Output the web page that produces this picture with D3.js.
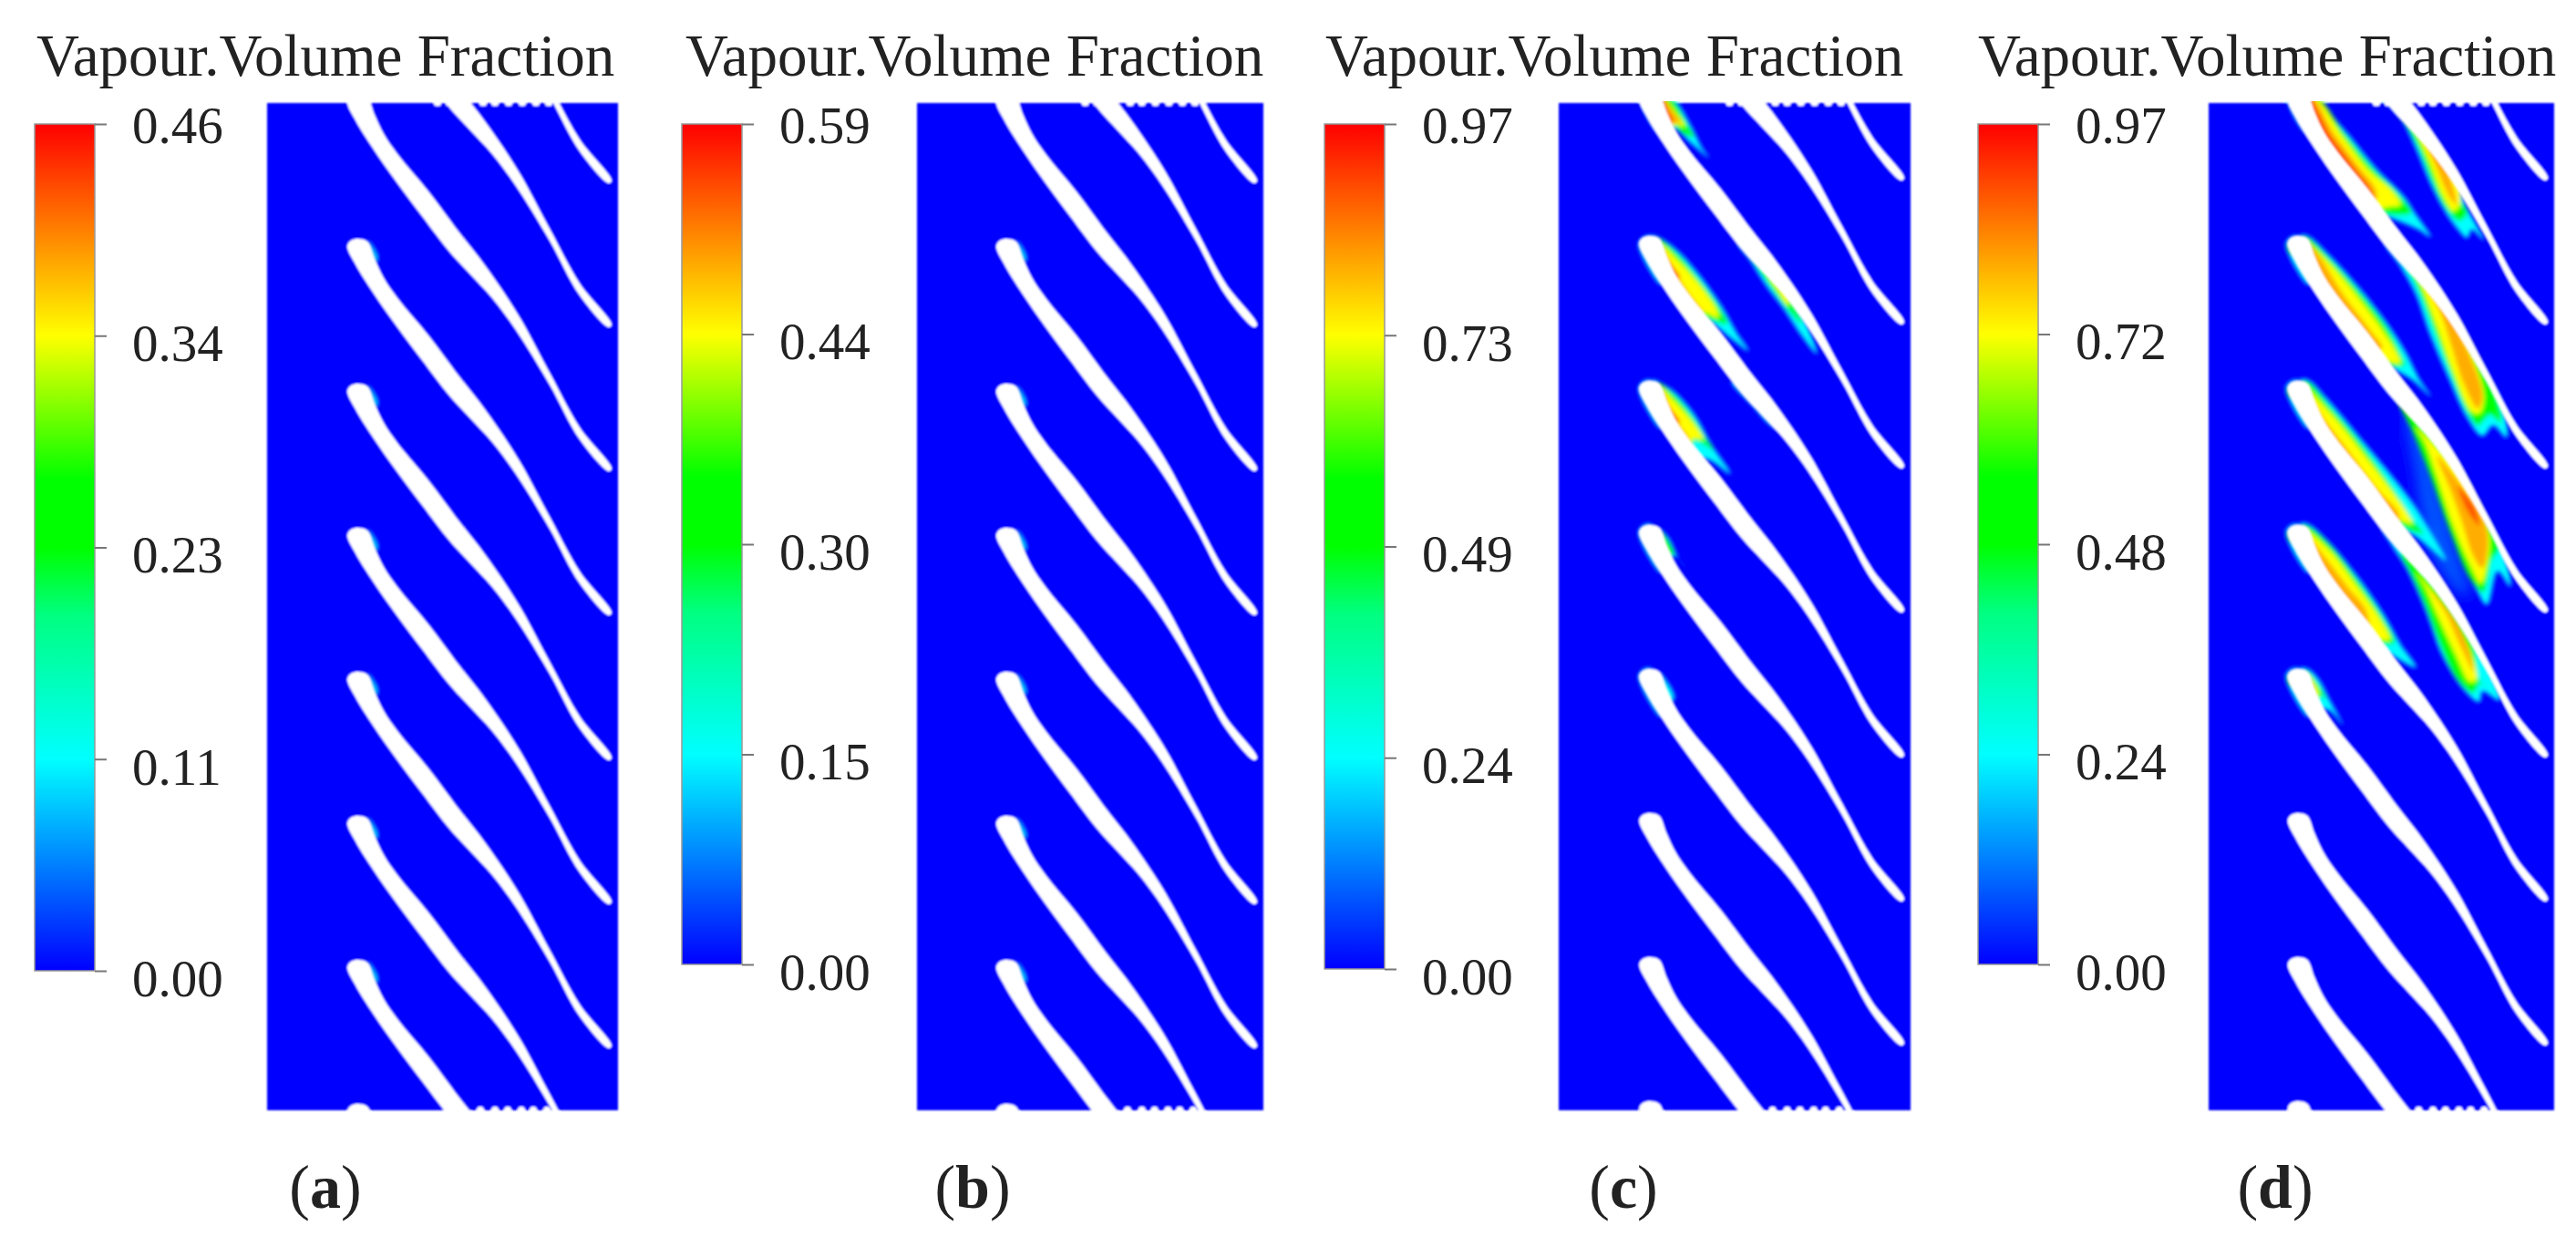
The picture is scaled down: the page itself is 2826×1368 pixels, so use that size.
<!DOCTYPE html>
<html>
<head>
<meta charset="utf-8">
<script src="https://cdn.jsdelivr.net/npm/d3@7"></script>
<style>
  html, body { margin: 0; background: #fff; }
  text { font-family: "Liberation Serif", serif; fill: #222; }
</style>
</head>
<body>
<svg id="chart" width="2826" height="1368"></svg>
<script>
// Legend
const titleText = 'Vapour.Volume Fraction';
const panelNames = ['a', 'b', 'c', 'd'];
const tickLabelsA = ['0.00', '0.11', '0.23', '0.34', '0.46'];
const tickLabelsB = ['0.00', '0.15', '0.30', '0.44', '0.59'];
const tickLabelsC = ['0.00', '0.24', '0.49', '0.73', '0.97'];
const tickLabelsD = ['0.00', '0.24', '0.48', '0.72', '0.97'];
const colorStops = [0, 0.25, 0.42, 0.5, 0.58, 0.75, 1];
const colorValues = ['#0000ff', '#00ffff', '#00ff80', '#00ff00', '#00ff00', '#ffff00', '#ff0000'];

// Blade outline, relative to the leading edge
const bladeUpper = [[0, 0], [10, 3], [18, 22], [28, 43], [43, 65], [77, 106], [110, 150], [133, 179], [153, 207], [177, 244], [210, 305], [243, 365], [278, 410]];
const bladeLower = [[275, 413], [243, 378], [210, 318], [173, 258], [147, 223], [123, 197], [100, 172], [70, 133], [43, 97], [17, 60], [-3, 28], [-12, 8], [-8, 2]];
// Leading edge heights in the cascade
const bladeLeadY = [-325, -167, -9, 149, 308, 466, 624, 782, 940, 1098];

// Small patch at each leading edge, low vapour fraction
const leadPatch = [[10, 2], [15, 7], [22, 22], [18, 26]];

// Vapour regions, nested low to high
const cavityLevels = [0.25, 0.5, 0.75, 0.83, 0.92];
const cavitiesC = [
  [[[125, 0], [170, 15], [225, 100], [260, 170], [285, 205], [230, 160], [175, 110], [145, 108], [110, 20]],
   [[125, 0], [165, 15], [210, 90], [235, 135], [200, 125], [170, 100], [145, 108], [110, 20]],
   [[125, 0], [170, 50], [205, 100], [175, 95], [145, 108], [110, 20]],
   [[125, 0], [165, 50], [190, 90], [165, 90], [145, 108], [110, 20]],
   [[125, 0], [150, 50], [165, 85], [145, 108], [110, 20]]],
  [[[90, 462], [120, 468], [180, 510], [260, 600], [330, 700], [375, 780], [415, 840], [360, 800], [290, 745], [221, 705], [145, 582]],
   [[115, 470], [175, 515], [255, 610], [320, 700], [345, 750], [285, 735], [221, 705], [145, 582]],
   [[125, 490], [185, 545], [260, 630], [310, 705], [315, 730], [275, 715], [221, 705], [145, 582]],
   [[125, 500], [165, 570], [225, 660], [265, 715], [221, 705], [145, 582]],
   [[125, 495], [150, 540], [190, 600], [145, 582]]],
  [[[380, 480], [419, 471], [528, 624], [590, 720], [640, 850], [590, 790], [530, 700], [470, 620], [420, 540]],
   [[420, 520], [528, 624], [565, 690], [590, 750], [550, 710], [490, 630], [450, 570]],
   [[480, 590], [528, 624], [550, 670], [545, 690], [510, 640]]],
  [[[100, 936], [120, 945], [170, 975], [240, 1055], [290, 1145], [355, 1245], [290, 1200], [221, 1179], [145, 1056]],
   [[115, 945], [170, 985], [235, 1065], [275, 1130], [300, 1165], [235, 1135], [221, 1179], [145, 1056]],
   [[125, 960], [170, 1005], [235, 1080], [265, 1130], [230, 1130], [221, 1179], [145, 1056]],
   [[125, 970], [155, 1030], [195, 1095], [218, 1130], [221, 1179], [145, 1056]],
   [[125, 965], [155, 1025], [190, 1075], [145, 1056]]],
  [[[115, 1425], [150, 1455], [185, 1525], [212, 1557], [170, 1515], [145, 1530]],
   [[120, 1430], [150, 1465], [170, 1510], [140, 1500]]],
  [[[118, 1898], [150, 1935], [170, 1982], [145, 2004]]],
  [[[360, 940], [419, 945], [528, 1098], [490, 1085], [430, 1020]]],
  [[[62, 10], [120, 120], [145, 108], [110, 10]]],
  [[[55, 482], [70, 537], [130, 622], [145, 582], [90, 462]]],
  [[[55, 956], [70, 1011], [130, 1096], [145, 1056], [90, 936]]],
  [[[55, 1430], [70, 1485], [130, 1570], [145, 1530], [90, 1410]]],
  [[[55, 1904], [70, 1959], [130, 2044], [145, 2004], [90, 1884]]]
];
const cavitiesD = [
  [[[150, 0], [165, 20], [260, 130], [350, 240], [440, 330], [480, 390], [530, 465], [490, 440], [420, 410], [322, 369], [221, 231], [145, 108], [110, 20]],
   [[150, 0], [250, 130], [340, 240], [420, 320], [465, 385], [420, 392], [322, 369], [221, 231], [145, 108], [110, 20]],
   [[150, 10], [240, 135], [330, 250], [400, 310], [430, 360], [400, 365], [322, 369], [221, 231], [145, 108], [110, 20]],
   [[135, 0], [215, 130], [290, 230], [350, 310], [350, 345], [322, 369], [221, 231], [145, 108], [110, 20]],
   [[130, 0], [200, 130], [270, 225], [340, 330], [322, 369], [221, 231], [145, 108]]],
  [[[370, 0], [419, -3], [528, 150], [617, 264], [640, 350], [705, 475], [665, 440], [650, 468], [620, 440], [580, 385], [530, 290], [480, 170], [430, 70]],
   [[395, 15], [528, 150], [617, 264], [625, 340], [650, 385], [625, 412], [580, 370], [530, 270], [490, 170], [440, 80]],
   [[470, 90], [528, 150], [617, 264], [625, 360], [605, 380], [570, 330], [530, 230], [495, 150]],
   [[510, 140], [560, 190], [600, 290], [615, 360], [590, 330], [550, 240]]],
  [[[100, 462], [125, 462], [190, 520], [300, 640], [400, 770], [450, 850], [490, 930], [530, 990], [470, 935], [410, 900], [322, 843], [221, 705], [145, 582]],
   [[100, 470], [125, 468], [190, 530], [290, 640], [390, 770], [435, 860], [445, 885], [400, 890], [322, 843], [221, 705], [145, 582]],
   [[115, 480], [190, 545], [280, 650], [370, 770], [420, 850], [430, 880], [390, 875], [322, 843], [221, 705], [145, 582]],
   [[120, 480], [165, 530], [240, 650], [330, 770], [370, 830], [322, 843], [221, 705], [145, 582]]],
  [[[380, 480], [419, 471], [528, 624], [617, 738], [714, 921], [760, 1000], [780, 1125], [735, 1085], [700, 1120], [650, 1060], [590, 930], [530, 790], [480, 650], [430, 560]],
   [[420, 510], [528, 624], [617, 738], [714, 921], [745, 985], [760, 1075], [725, 1050], [685, 1085], [650, 1040], [590, 900], [540, 770], [490, 640], [450, 560]],
   [[470, 560], [528, 624], [617, 738], [665, 850], [705, 990], [690, 1045], [665, 1040], [600, 900], [550, 760], [500, 630]],
   [[510, 620], [590, 720], [660, 860], [700, 990], [685, 1030], [640, 950], [600, 830], [560, 710]]],
  [[[100, 936], [125, 935], [190, 1000], [300, 1130], [400, 1250], [470, 1340], [520, 1420], [580, 1530], [530, 1490], [480, 1450], [419, 1419], [322, 1317], [221, 1179], [145, 1056]],
   [[100, 945], [125, 942], [200, 1025], [300, 1145], [400, 1285], [470, 1395], [505, 1440], [440, 1420], [322, 1317], [221, 1179], [145, 1056]],
   [[115, 960], [200, 1045], [290, 1155], [390, 1285], [460, 1385], [470, 1408], [425, 1395], [322, 1317], [221, 1179], [145, 1056]],
   [[120, 975], [180, 1065], [260, 1170], [350, 1290], [425, 1375], [419, 1419], [322, 1317], [221, 1179], [145, 1056]]],
  [[[380, 950], [419, 945], [528, 1098], [617, 1212], [714, 1395], [765, 1490], [792, 1615], [750, 1565], [715, 1675], [680, 1625], [620, 1495], [565, 1345], [515, 1175], [465, 1055]],
   [[420, 995], [528, 1098], [617, 1212], [714, 1395], [755, 1485], [730, 1530], [702, 1635], [660, 1590], [590, 1425], [530, 1255], [470, 1105]],
   [[480, 1090], [600, 1215], [680, 1325], [722, 1445], [715, 1545], [695, 1605], [660, 1545], [600, 1405], [550, 1255], [510, 1140]],
   [[550, 1185], [640, 1295], [700, 1385], [718, 1465], [700, 1555], [670, 1515], [630, 1395], [590, 1285]],
   [[620, 1285], [670, 1345], [690, 1415], [650, 1365]]],
  [[[370, 1420], [419, 1419], [528, 1572], [617, 1686], [714, 1869], [757, 1990], [700, 1960], [690, 1995], [640, 1955], [570, 1845], [510, 1685], [450, 1555], [400, 1475]],
   [[430, 1505], [528, 1572], [617, 1686], [670, 1800], [690, 1925], [715, 1945], [690, 1935], [670, 1965], [620, 1925], [560, 1805], [510, 1675], [460, 1565]],
   [[480, 1565], [590, 1705], [650, 1805], [680, 1920], [660, 1930], [610, 1835], [550, 1705], [510, 1615]],
   [[530, 1625], [610, 1725], [655, 1825], [670, 1895], [625, 1805], [580, 1705]]],
  [[[100, 1410], [125, 1410], [190, 1465], [290, 1585], [380, 1715], [430, 1805], [482, 1882], [400, 1840], [322, 1791], [221, 1653], [145, 1530]],
   [[105, 1418], [128, 1418], [195, 1475], [285, 1590], [370, 1715], [410, 1800], [375, 1805], [322, 1791], [221, 1653], [145, 1530]],
   [[115, 1430], [195, 1495], [280, 1605], [365, 1725], [395, 1790], [360, 1790], [322, 1791], [221, 1653], [145, 1530]],
   [[120, 1445], [180, 1515], [255, 1615], [320, 1700], [322, 1791], [221, 1653], [145, 1530]]],
  [[[100, 1885], [125, 1887], [160, 1920], [195, 1985], [240, 2070], [200, 2025], [145, 2004]],
   [[115, 1890], [150, 1925], [185, 1985], [165, 1975], [145, 2004]],
   [[125, 1905], [150, 1940], [160, 1965], [145, 2004]],
   [[125, 1910], [145, 1950], [145, 1970]]],
  [[[62, 10], [120, 120], [145, 108], [110, 10]]],
  [[[55, 482], [70, 537], [130, 622], [145, 582], [90, 462]], [[58, 487], [68, 522], [90, 502]]],
  [[[55, 956], [70, 1011], [130, 1096], [145, 1056], [90, 936]], [[58, 961], [68, 996], [90, 976]]],
  [[[55, 1430], [70, 1485], [130, 1570], [145, 1530], [90, 1410]], [[58, 1435], [68, 1470], [90, 1450]]],
  [[[55, 1904], [70, 1959], [130, 2044], [145, 2004], [90, 1884]], [[58, 1909], [68, 1944], [90, 1924]]]
];
// Very low vapour trails behind the bigger regions
const faintLevel = 0.08;
const faintD = [
  [[500, 1400], [560, 1480], [640, 1650], [590, 1600], [520, 1480]],
  [[440, 1020], [500, 1130], [555, 1290], [610, 1480], [660, 1650], [570, 1530], [500, 1370], [480, 1250]]
];
const faintC = [];

// Frame in the units the cavity outlines were read in
const cavityDomainC = {x: [-210, 948], y: [24, 3339]};
const cavityDomainD = {x: [-201, 936], y: [24, 3339]};

// Small white bumps on the cut top and bottom edges
const topBumpX = [187, 200, 237, 250, 265, 280, 295, 309];
const bottomBumpX = [234, 250, 264, 279, 292, 307];

const panelLeft = [293, 1006, 1710, 2423];
const panelRight = [678, 1386, 2096, 2802];
const panelLeadShift = [0, 0, -3, -3];
const panelTop = 113;
const panelBottom = 1218;
const barLeft = [38, 748, 1453, 2170];
const barTop = 136;
const barBottom = [1065, 1058, 1063, 1058];
const titleX = [40, 752, 1454, 2170];
const captionX = [357, 1067, 1781, 2496];

const svg = d3.select('#chart');
const defs = svg.append('defs');

const blur = (id, s) => defs.append('filter').attr('id', id)
  .attr('x', '-5%').attr('y', '-5%').attr('width', '110%').attr('height', '110%')
  .append('feGaussianBlur').attr('stdDeviation', s);
blur('soft', 1.3);
blur('cavity', 2.2);
blur('trail', 7);
blur('text', 0.7);

const color = d3.scaleLinear().domain(colorStops).range(colorValues);

const gradient = defs.append('linearGradient').attr('id', 'ramp')
  .attr('x1', 0).attr('x2', 0).attr('y1', 1).attr('y2', 0);
gradient.selectAll('stop').data(colorStops).enter().append('stop')
  .attr('offset', d => d)
  .attr('stop-color', (d, i) => colorValues[i]);

const closed = d3.line().curve(d3.curveCatmullRomClosed.alpha(0.5));
const bladeOutline = bladeUpper.concat(bladeLower);

function drawPanel(i, tickLabels, cavities, faint, domain) {
  const g = svg.append('g');

  // Contour panel
  const x = d3.scaleLinear().domain([0, 385]).range([panelLeft[i], panelRight[i]]);
  const y = d3.scaleLinear().domain([0, 1105]).range([panelTop, panelBottom]);
  const clipId = `clip-${panelNames[i]}`;
  defs.append('clipPath').attr('id', clipId).append('rect')
    .attr('x', x(0) - 2).attr('y', y(0) - 2)
    .attr('width', x(385) - x(0) + 4).attr('height', y(1105) - y(0) + 4);

  const panel = g.append('g').attr('clip-path', `url(#${clipId})`).append('g').attr('filter', 'url(#soft)');
  panel.append('rect')
    .attr('x', x(0)).attr('y', y(0))
    .attr('width', x(385) - x(0)).attr('height', y(1105) - y(0))
    .attr('fill', '#0000ff');

  const shift = panelLeadShift[i];
  if (cavities) {
    const cx = d3.scaleLinear().domain(domain.x).range([panelLeft[i], panelRight[i]]);
    const cy = d3.scaleLinear().domain(domain.y).range([panelTop, panelBottom]);
    const toPixels = pts => closed(pts.map(p => [cx(p[0]), cy(p[1])]));

    const trail = panel.append('g').attr('filter', 'url(#trail)');
    faint.forEach(pts => {
      trail.append('path').attr('d', toPixels(pts)).attr('fill', color(faintLevel));
    });

    const inner = panel.append('g').attr('filter', 'url(#cavity)');
    cavities.forEach(levels => {
      levels.forEach((pts, k) => {
        inner.append('path').attr('d', toPixels(pts)).attr('fill', color(cavityLevels[k]));
      });
    });
  } else {
    const inner = panel.append('g').attr('filter', 'url(#cavity)');
    bladeLeadY.filter(d => d > 0 && d < 1090).forEach(ly => {
      inner.append('path')
        .attr('d', closed(leadPatch.map(p => [x(100 + p[0]), y(ly + p[1])])))
        .attr('fill', color(0.22));
    });
  }

  panel.selectAll('path.blade')
    .data(bladeLeadY)
    .enter().append('path')
    .attr('class', 'blade')
    .attr('fill', '#fff')
    .attr('d', ly => closed(bladeOutline.map(p => [x(100 + p[0]), y(ly + shift + p[1])])));

  panel.selectAll('ellipse.top')
    .data(topBumpX)
    .enter().append('ellipse')
    .attr('class', 'top')
    .attr('cx', d => x(d)).attr('cy', y(0)).attr('rx', 4).attr('ry', 3.5)
    .attr('fill', '#fff');

  panel.selectAll('ellipse.bottom')
    .data(bottomBumpX)
    .enter().append('ellipse')
    .attr('class', 'bottom')
    .attr('cx', d => x(d)).attr('cy', y(1105)).attr('rx', 4).attr('ry', 4)
    .attr('fill', '#fff');

  // Colour bar
  const barY = d3.scalePoint().domain(tickLabels).range([barBottom[i], barTop]);
  g.append('rect')
    .attr('x', barLeft[i]).attr('y', barTop)
    .attr('width', 66).attr('height', barBottom[i] - barTop)
    .attr('fill', 'url(#ramp)')
    .attr('stroke', '#999').attr('stroke-width', 1.5);

  const axis = g.append('g')
    .attr('transform', `translate(${barLeft[i] + 66},0)`)
    .attr('filter', 'url(#text)')
    .call(d3.axisRight(barY).tickSize(13).tickPadding(28));
  axis.select('.domain').remove();
  axis.selectAll('line').attr('stroke', '#777').attr('stroke-width', 2);
  axis.selectAll('text')
    .style('font-size', '57px')
    .attr('dy', (d, j) => (j === tickLabels.length - 1 ? '0.36em' : '0.48em'));

  // Title and caption
  g.append('text')
    .attr('x', titleX[i]).attr('y', 83)
    .attr('filter', 'url(#text)')
    .style('font-size', '65px')
    .text(titleText);

  const caption = g.append('text')
    .attr('x', captionX[i]).attr('y', 1325)
    .attr('text-anchor', 'middle')
    .attr('filter', 'url(#text)')
    .style('font-size', '68px');
  caption.append('tspan').text('(');
  caption.append('tspan').style('font-weight', 'bold').text(panelNames[i]);
  caption.append('tspan').text(')');
}

drawPanel(0, tickLabelsA, null, null, null);
drawPanel(1, tickLabelsB, null, null, null);
drawPanel(2, tickLabelsC, cavitiesC, faintC, cavityDomainC);
drawPanel(3, tickLabelsD, cavitiesD, faintD, cavityDomainD);
</script>
</body>
</html>
